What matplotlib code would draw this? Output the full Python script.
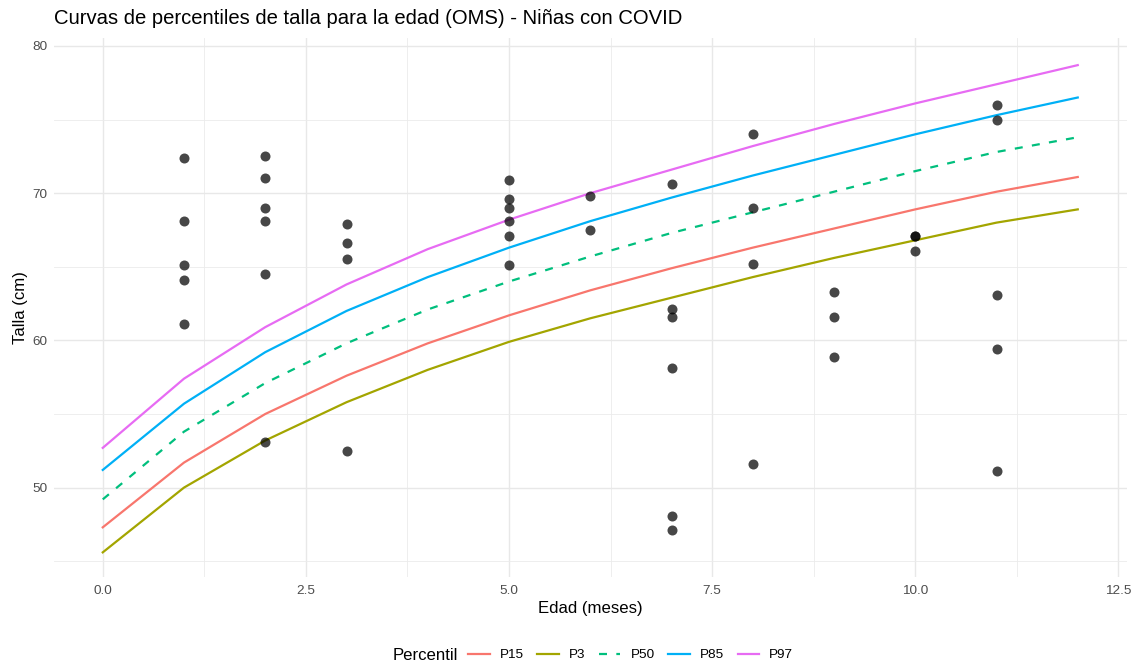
import matplotlib
matplotlib.use("Agg")
import matplotlib.pyplot as plt
import numpy as np

plt.rcParams['font.family'] = ['Liberation Sans', 'DejaVu Sans']

# WHO length-for-age percentiles, girls 0-12 months
edad_ref = [0, 1, 2, 3, 4, 5, 6, 7, 8, 9, 10, 11, 12]
p3 = [45.6, 50.0, 53.2, 55.8, 58.0, 59.9, 61.5, 62.9, 64.3, 65.6, 66.8, 68.0, 68.9]
p15 = [47.3, 51.7, 55.0, 57.6, 59.8, 61.7, 63.4, 64.9, 66.3, 67.6, 68.9, 70.1, 71.1]
p50 = [49.2, 53.8, 57.1, 59.8, 62.1, 64.0, 65.7, 67.3, 68.7, 70.1, 71.5, 72.8, 73.8]
p85 = [51.2, 55.7, 59.2, 62.0, 64.3, 66.3, 68.1, 69.7, 71.2, 72.6, 74.0, 75.3, 76.5]
p97 = [52.7, 57.4, 60.9, 63.8, 66.2, 68.2, 70.0, 71.6, 73.2, 74.7, 76.1, 77.4, 78.7]

# observed girls
edad_obs = [1, 1, 1, 1, 1,
            2, 2, 2, 2, 2, 2,
            3, 3, 3, 3,
            5, 5, 5, 5, 5, 5,
            6, 6,
            7, 7, 7, 7, 7, 7,
            8, 8, 8, 8,
            9, 9, 9,
            10, 10, 10,
            11, 11, 11, 11, 11]
talla_obs = [72.4, 68.1, 65.1, 64.1, 61.1,
             72.5, 71.0, 69.0, 68.1, 64.5, 53.1,
             67.9, 66.6, 65.5, 52.5,
             70.9, 69.6, 69.0, 68.1, 67.1, 65.1,
             69.8, 67.5,
             70.6, 62.1, 61.6, 58.1, 48.1, 47.1,
             74.0, 69.0, 65.2, 51.6,
             63.3, 61.6, 58.9,
             67.1, 67.1, 66.1,
             76.0, 75.0, 63.1, 59.4, 51.1]

curvas = [("P15", p15, "#F8766D", "-"),
          ("P3", p3, "#A3A500", "-"),
          ("P50", p50, "#00BF7D", "--"),
          ("P85", p85, "#00B0F6", "-"),
          ("P97", p97, "#E76BF3", "-")]

W, H = 1135, 665
fig = plt.figure(figsize=(W / 100, H / 100), dpi=100)
left, right, top, bottom = 54.0, 1126.5, 37.6, 576.8
ax = fig.add_axes([left / W, 1 - bottom / H, (right - left) / W, (bottom - top) / H])

ax.set_xlim(-0.6, 12.6)
ax.set_ylim(43.94, 80.57)
ax.set_xticks([0, 2.5, 5, 7.5, 10, 12.5])
ax.set_xticklabels(["0.0", "2.5", "5.0", "7.5", "10.0", "12.5"])
ax.set_yticks([50, 60, 70, 80])
ax.set_xticks([1.25, 3.75, 6.25, 8.75, 11.25], minor=True)
ax.set_yticks([45, 55, 65, 75], minor=True)
ax.grid(which='major', color='#E8E8E8', lw=1.0)
ax.grid(which='minor', color='#EBEBEB', lw=0.6)
ax.set_axisbelow(True)
for s in ax.spines.values():
    s.set_visible(False)
ax.tick_params(which='both', length=0)
ax.tick_params(axis='x', pad=6, labelsize=9.7, labelcolor='#4D4D4D')
ax.tick_params(axis='y', pad=5, labelsize=9.7, labelcolor='#4D4D4D')

handles = []
for nombre, vals, col, ls in curvas:
    ln, = ax.plot(edad_ref, vals, color=col, lw=1.6, ls=ls, label=nombre)
    if ls == "--":
        ln.set_dashes((3.6, 4.2))
    handles.append(ln)

ax.scatter(edad_obs, talla_obs, s=52, color='black', alpha=0.72, linewidths=0, zorder=3)

ax.set_xlabel("Edad (meses)", fontsize=12.1, labelpad=3)
ax.set_ylabel("Talla (cm)", fontsize=12.1, labelpad=3)
fig.text(left / W, 1 - 18 / H, "Curvas de percentiles de talla para la edad (OMS) - Niñas con COVID",
         fontsize=14.6, ha='left', va='center')

# legend at the bottom with title on the left
fig.text(393 / W, 1 - 655 / H, "Percentil", fontsize=12.1, ha='left', va='center')
leg = fig.legend(handles=handles, labels=[c[0] for c in curvas], loc='center left',
                 bbox_to_anchor=(468 / W, 1 - 655 / H), ncol=5, frameon=False,
                 fontsize=9.7, handlelength=1.6, handletextpad=0.75, columnspacing=1.0,
                 borderpad=0, borderaxespad=0)

fig.savefig("out.png", dpi=100, facecolor='white')
